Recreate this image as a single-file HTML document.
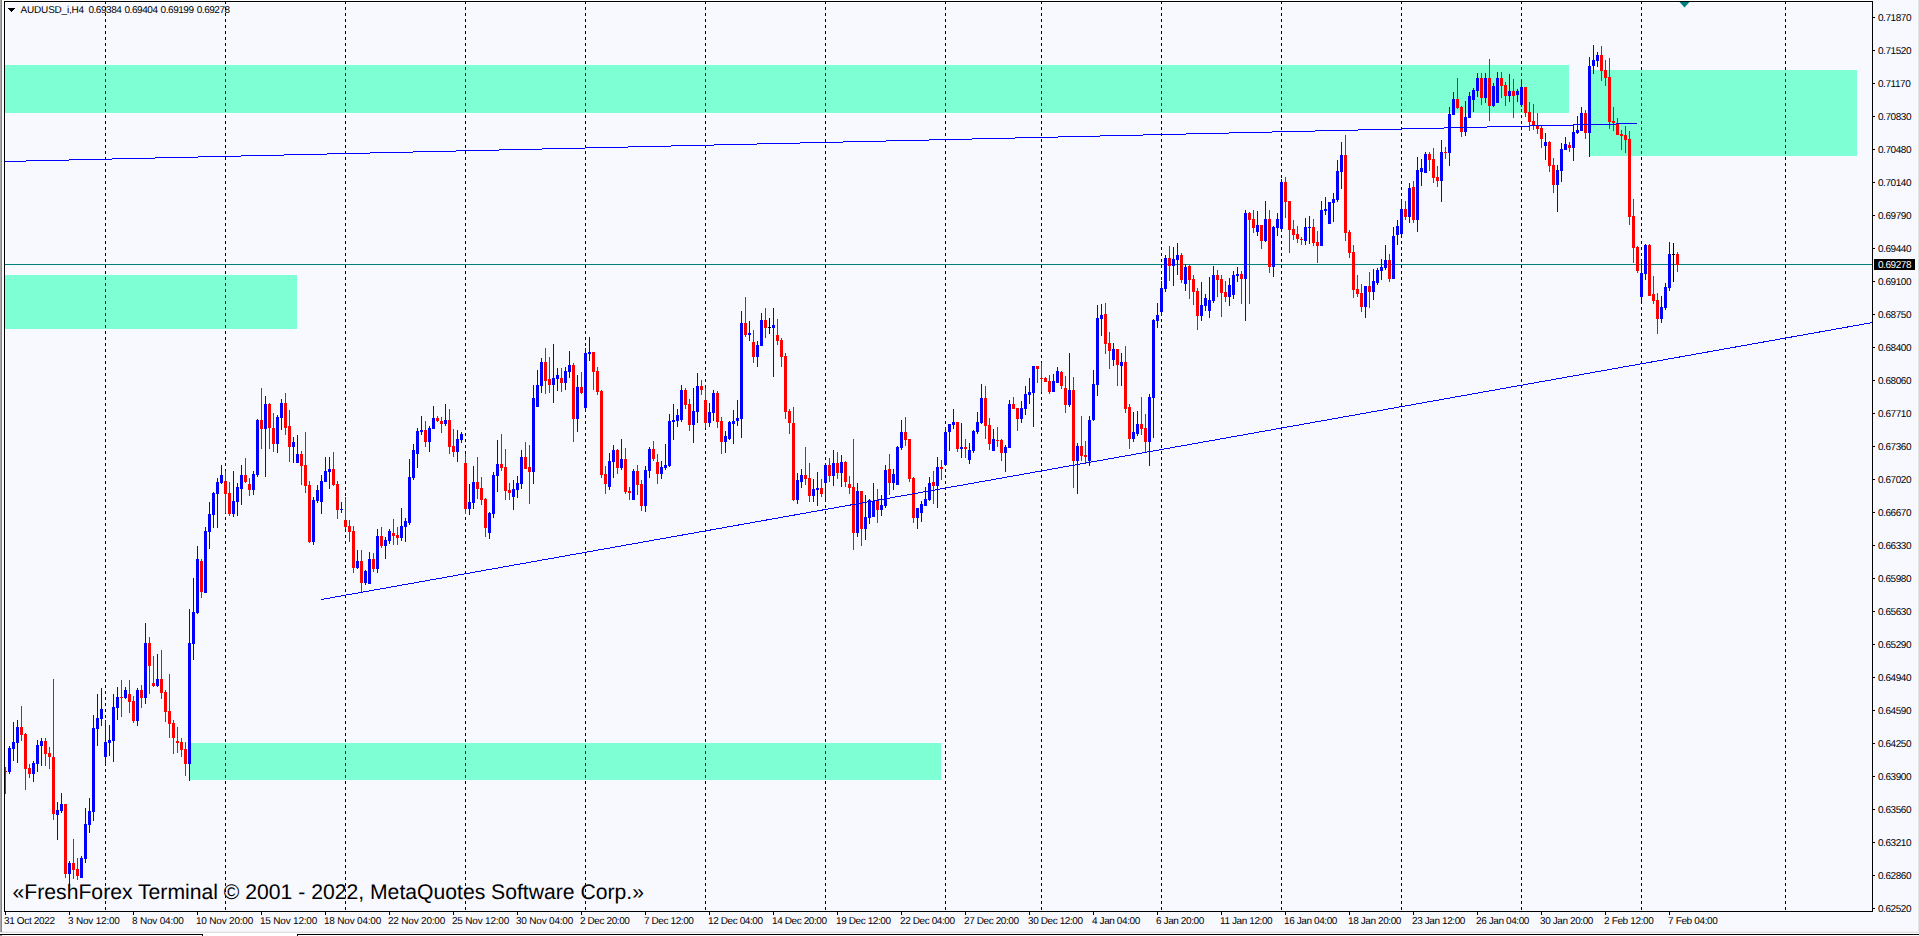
<!DOCTYPE html><html><head><meta charset="utf-8"><title>AUDUSD_i,H4</title><style>
html,body{margin:0;padding:0;background:#fff;}
body{width:1919px;height:936px;overflow:hidden;position:relative;font-family:"Liberation Sans",sans-serif;}
#c{position:absolute;left:0;top:0;}
.t{position:absolute;white-space:nowrap;color:#000;line-height:1;text-rendering:geometricPrecision;}
.p{font-size:10px;left:1878px;letter-spacing:-0.45px;}
.d{font-size:10px;top:917px;letter-spacing:-0.25px;}
</style></head><body>
<svg id="c" width="1919" height="936" viewBox="0 0 1919 936" shape-rendering="crispEdges">
<rect x="0" y="0" width="1919" height="936" fill="#fdfdff"/>
<rect x="5" y="2" width="1867" height="909" fill="#fff"/>
<rect x="6" y="3" width="1866" height="908" fill="#f8f8ff"/>
<rect x="1873" y="0" width="46" height="936" fill="#f8f8ff"/>
<rect x="2" y="912" width="1917" height="19" fill="#f8f8ff"/>
<rect x="0" y="0" width="1" height="932" fill="#a8a8a8"/><rect x="1" y="0" width="1" height="932" fill="#858585"/><rect x="2" y="0" width="2" height="934" fill="#fff"/>
<rect x="1917" y="0" width="1" height="932" fill="#fbfbfd"/><rect x="1918" y="0" width="1" height="932" fill="#e2e2e2"/>
<defs><clipPath id="g">
<rect x="5" y="65" width="1564" height="48"/>
<rect x="1590" y="70" width="267" height="86"/>
<rect x="5" y="275" width="292" height="54"/>
<rect x="190" y="743" width="751" height="37"/>
</clipPath></defs>
<rect x="5" y="65" width="1564" height="48" fill="#7fffd4"/>
<rect x="1590" y="70" width="267" height="86" fill="#7fffd4"/>
<rect x="5" y="275" width="292" height="54" fill="#7fffd4"/>
<rect x="190" y="743" width="751" height="37" fill="#7fffd4"/>
<path d="M105.5 1V911M225.5 1V911M345.5 1V911M465.5 1V911M585.5 1V911M705.5 1V911M825.5 1V911M945.5 1V911M1041.5 1V911M1161.5 1V911M1281.5 1V911M1401.5 1V911M1521.5 1V911M1641.5 1V911M1785.5 1V911" stroke="#000" stroke-width="1" stroke-dasharray="3 3" fill="none"/>
<path d="M105.5 1V911M225.5 1V911M345.5 1V911M465.5 1V911M585.5 1V911M705.5 1V911M825.5 1V911M945.5 1V911M1041.5 1V911M1161.5 1V911M1281.5 1V911M1401.5 1V911M1521.5 1V911M1641.5 1V911M1785.5 1V911" stroke="#80002b" stroke-width="1" stroke-dasharray="3 3" fill="none" clip-path="url(#g)"/>
<rect x="5" y="264" width="1867" height="1" fill="#008080"/>
<path d="M9 746h1v28h-1zM8 748h3v24h-3zM13 722h1v39h-1zM12 742h3v7h-3zM17 720h1v43h-1zM16 727h3v16h-3zM33 761h1v21h-1zM32 763h3v11h-3zM37 740h1v32h-1zM36 745h3v19h-3zM41 738h1v28h-1zM40 741h3v5h-3zM57 802h1v38h-1zM56 810h3v5h-3zM61 793h1v20h-1zM60 804h3v7h-3zM69 861h1v25h-1zM68 863h3v11h-3zM81 856h1v22h-1zM80 858h3v20h-3zM85 808h1v55h-1zM84 824h3v35h-3zM89 798h1v35h-1zM88 811h3v14h-3zM93 715h1v106h-1zM92 728h3v84h-3zM97 694h1v52h-1zM96 718h3v11h-3zM101 688h1v38h-1zM100 709h3v10h-3zM105 720h1v44h-1zM104 742h3v15h-3zM109 725h1v31h-1zM108 740h3v3h-3zM113 694h1v68h-1zM112 707h3v34h-3zM117 687h1v33h-1zM116 697h3v11h-3zM125 687h1v12h-1zM124 690h3v8h-3zM137 688h1v38h-1zM136 690h3v31h-3zM145 623h1v81h-1zM144 643h3v55h-3zM157 654h1v33h-1zM156 679h3v7h-3zM189 609h1v172h-1zM188 643h3v121h-3zM193 578h1v82h-1zM192 612h3v32h-3zM197 546h1v68h-1zM196 559h3v54h-3zM205 527h1v66h-1zM204 531h3v62h-3zM209 502h1v47h-1zM208 514h3v18h-3zM213 492h1v36h-1zM212 493h3v22h-3zM217 478h1v50h-1zM216 482h3v12h-3zM221 465h1v19h-1zM220 475h3v8h-3zM233 471h1v46h-1zM232 501h3v13h-3zM237 483h1v33h-1zM236 487h3v15h-3zM241 465h1v40h-1zM240 475h3v14h-3zM253 471h1v24h-1zM252 474h3v16h-3zM257 419h1v58h-1zM256 420h3v55h-3zM265 396h1v81h-1zM264 404h3v25h-3zM277 415h1v38h-1zM276 417h3v27h-3zM281 399h1v31h-1zM280 403h3v15h-3zM293 437h1v26h-1zM292 442h3v5h-3zM297 435h1v28h-1zM296 454h3v9h-3zM313 497h1v48h-1zM312 500h3v42h-3zM317 485h1v18h-1zM316 490h3v11h-3zM321 475h1v39h-1zM320 481h3v21h-3zM325 457h1v25h-1zM324 471h3v11h-3zM329 457h1v32h-1zM328 469h3v3h-3zM341 502h1v11h-1zM340 509h3v1h-3zM357 550h1v19h-1zM356 561h3v7h-3zM365 570h1v15h-1zM364 571h3v12h-3zM369 552h1v32h-1zM368 559h3v25h-3zM377 529h1v44h-1zM376 536h3v33h-3zM385 537h1v22h-1zM384 540h3v6h-3zM389 529h1v15h-1zM388 531h3v10h-3zM401 508h1v33h-1zM400 526h3v12h-3zM405 518h1v24h-1zM404 521h3v6h-3zM409 459h1v66h-1zM408 477h3v46h-3zM413 444h1v36h-1zM412 450h3v28h-3zM417 428h1v40h-1zM416 431h3v23h-3zM421 416h1v19h-1zM420 430h3v2h-3zM429 426h1v26h-1zM428 428h3v14h-3zM433 406h1v23h-1zM432 418h3v11h-3zM445 404h1v22h-1zM444 420h3v4h-3zM457 430h1v32h-1zM456 439h3v13h-3zM461 432h1v11h-1zM460 434h3v6h-3zM469 484h1v31h-1zM468 502h3v7h-3zM473 466h1v43h-1zM472 482h3v21h-3zM489 512h1v27h-1zM488 513h3v20h-3zM493 472h1v46h-1zM492 475h3v39h-3zM497 440h1v52h-1zM496 464h3v12h-3zM513 480h1v30h-1zM512 489h3v8h-3zM517 476h1v22h-1zM516 483h3v7h-3zM521 450h1v39h-1zM520 457h3v27h-3zM533 385h1v99h-1zM532 398h3v74h-3zM537 370h1v37h-1zM536 385h3v22h-3zM541 358h1v35h-1zM540 362h3v24h-3zM553 344h1v59h-1zM552 378h3v7h-3zM557 368h1v23h-1zM556 375h3v4h-3zM565 367h1v23h-1zM564 371h3v12h-3zM569 351h1v27h-1zM568 365h3v7h-3zM577 375h1v57h-1zM576 387h3v32h-3zM585 348h1v63h-1zM584 353h3v55h-3zM589 337h1v24h-1zM588 352h3v2h-3zM609 453h1v37h-1zM608 461h3v26h-3zM613 445h1v33h-1zM612 450h3v12h-3zM621 439h1v31h-1zM620 459h3v9h-3zM633 469h1v31h-1zM632 471h3v29h-3zM645 466h1v46h-1zM644 470h3v36h-3zM649 447h1v31h-1zM648 449h3v22h-3zM661 461h1v18h-1zM660 467h3v7h-3zM665 444h1v26h-1zM664 465h3v3h-3zM669 414h1v53h-1zM668 421h3v45h-3zM673 404h1v36h-1zM672 420h3v2h-3zM677 409h1v18h-1zM676 415h3v6h-3zM681 385h1v37h-1zM680 390h3v30h-3zM693 388h1v55h-1zM692 411h3v14h-3zM697 373h1v50h-1zM696 386h3v26h-3zM709 403h1v24h-1zM708 412h3v11h-3zM713 390h1v31h-1zM712 393h3v20h-3zM725 431h1v22h-1zM724 436h3v6h-3zM729 421h1v19h-1zM728 422h3v17h-3zM733 410h1v34h-1zM732 421h3v3h-3zM737 400h1v26h-1zM736 418h3v3h-3zM741 311h1v127h-1zM740 323h3v96h-3zM749 321h1v20h-1zM748 333h3v2h-3zM757 341h1v26h-1zM756 345h3v12h-3zM761 313h1v33h-1zM760 320h3v26h-3zM773 308h1v69h-1zM772 325h3v3h-3zM797 473h1v31h-1zM796 480h3v20h-3zM801 469h1v19h-1zM800 475h3v7h-3zM813 479h1v23h-1zM812 489h3v7h-3zM817 472h1v34h-1zM816 488h3v2h-3zM825 463h1v36h-1zM824 465h3v18h-3zM833 450h1v36h-1zM832 463h3v13h-3zM841 455h1v32h-1zM840 462h3v11h-3zM857 483h1v54h-1zM856 491h3v42h-3zM865 495h1v45h-1zM864 517h3v12h-3zM869 499h1v25h-1zM868 500h3v18h-3zM873 483h1v34h-1zM872 501h3v16h-3zM881 495h1v21h-1zM880 505h3v5h-3zM885 465h1v43h-1zM884 470h3v36h-3zM893 469h1v21h-1zM892 474h3v9h-3zM897 446h1v39h-1zM896 447h3v38h-3zM901 420h1v30h-1zM900 432h3v16h-3zM917 508h1v21h-1zM916 508h3v10h-3zM921 501h1v21h-1zM920 504h3v9h-3zM925 487h1v19h-1zM924 499h3v7h-3zM929 477h1v24h-1zM928 483h3v17h-3zM937 457h1v51h-1zM936 467h3v19h-3zM945 427h1v39h-1zM944 432h3v33h-3zM949 424h1v27h-1zM948 424h3v8h-3zM953 409h1v20h-1zM952 422h3v3h-3zM961 423h1v35h-1zM960 447h3v2h-3zM969 443h1v21h-1zM968 450h3v10h-3zM973 430h1v23h-1zM972 431h3v20h-3zM977 412h1v22h-1zM976 422h3v10h-3zM981 384h1v40h-1zM980 398h3v25h-3zM993 429h1v22h-1zM992 439h3v12h-3zM1005 445h1v27h-1zM1004 447h3v6h-3zM1009 400h1v48h-1zM1008 404h3v44h-3zM1021 401h1v22h-1zM1020 408h3v11h-3zM1025 386h1v29h-1zM1024 394h3v15h-3zM1029 378h1v26h-1zM1028 392h3v3h-3zM1033 366h1v61h-1zM1032 366h3v27h-3zM1053 374h1v18h-1zM1052 381h3v11h-3zM1057 367h1v16h-1zM1056 371h3v12h-3zM1069 353h1v54h-1zM1068 390h3v15h-3zM1077 443h1v51h-1zM1076 446h3v15h-3zM1089 416h1v50h-1zM1088 420h3v41h-3zM1093 370h1v51h-1zM1092 384h3v36h-3zM1097 305h1v91h-1zM1096 318h3v67h-3zM1101 304h1v32h-1zM1100 315h3v4h-3zM1113 343h1v23h-1zM1112 349h3v11h-3zM1121 353h1v33h-1zM1120 362h3v4h-3zM1133 412h1v30h-1zM1132 432h3v7h-3zM1137 411h1v25h-1zM1136 424h3v10h-3zM1149 394h1v72h-1zM1148 397h3v45h-3zM1153 319h1v119h-1zM1152 320h3v78h-3zM1157 303h1v25h-1zM1156 315h3v6h-3zM1161 281h1v35h-1zM1160 288h3v24h-3zM1165 255h1v37h-1zM1164 258h3v31h-3zM1173 247h1v39h-1zM1172 259h3v7h-3zM1177 243h1v32h-1zM1176 255h3v5h-3zM1185 264h1v27h-1zM1184 267h3v17h-3zM1201 282h1v39h-1zM1200 305h3v11h-3zM1205 294h1v17h-1zM1204 298h3v8h-3zM1209 277h1v41h-1zM1208 300h3v11h-3zM1213 266h1v37h-1zM1212 275h3v26h-3zM1229 278h1v28h-1zM1228 285h3v12h-3zM1233 271h1v28h-1zM1232 275h3v20h-3zM1237 267h1v15h-1zM1236 274h3v2h-3zM1245 210h1v111h-1zM1244 213h3v66h-3zM1257 211h1v25h-1zM1256 225h3v7h-3zM1265 201h1v41h-1zM1264 219h3v22h-3zM1273 226h1v51h-1zM1272 227h3v40h-3zM1277 213h1v23h-1zM1276 219h3v9h-3zM1281 179h1v53h-1zM1280 182h3v47h-3zM1305 218h1v27h-1zM1304 227h3v14h-3zM1309 216h1v28h-1zM1308 227h3v1h-3zM1321 201h1v45h-1zM1320 210h3v36h-3zM1325 197h1v18h-1zM1324 209h3v2h-3zM1329 202h1v22h-1zM1328 202h3v22h-3zM1333 193h1v29h-1zM1332 199h3v4h-3zM1337 160h1v42h-1zM1336 171h3v29h-3zM1341 142h1v47h-1zM1340 155h3v17h-3zM1365 286h1v32h-1zM1364 286h3v21h-3zM1373 269h1v31h-1zM1372 281h3v11h-3zM1377 268h1v17h-1zM1376 270h3v13h-3zM1381 259h1v21h-1zM1380 267h3v4h-3zM1385 245h1v25h-1zM1384 260h3v8h-3zM1393 227h1v52h-1zM1392 236h3v43h-3zM1397 220h1v25h-1zM1396 226h3v9h-3zM1401 200h1v35h-1zM1400 209h3v25h-3zM1409 183h1v40h-1zM1408 188h3v29h-3zM1417 157h1v75h-1zM1416 170h3v50h-3zM1421 159h1v27h-1zM1420 168h3v4h-3zM1425 152h1v21h-1zM1424 154h3v19h-3zM1441 140h1v62h-1zM1440 152h3v29h-3zM1449 107h1v59h-1zM1448 114h3v39h-3zM1453 92h1v23h-1zM1452 99h3v16h-3zM1465 101h1v35h-1zM1464 117h3v15h-3zM1469 92h1v26h-1zM1468 96h3v22h-3zM1473 88h1v24h-1zM1472 90h3v10h-3zM1477 73h1v24h-1zM1476 78h3v13h-3zM1485 73h1v30h-1zM1484 78h3v20h-3zM1493 83h1v24h-1zM1492 86h3v20h-3zM1497 72h1v31h-1zM1496 78h3v25h-3zM1509 74h1v28h-1zM1508 91h3v5h-3zM1517 89h1v13h-1zM1516 91h3v4h-3zM1521 80h1v27h-1zM1520 87h3v18h-3zM1545 133h1v27h-1zM1544 142h3v4h-3zM1557 165h1v47h-1zM1556 170h3v15h-3zM1561 143h1v39h-1zM1560 149h3v22h-3zM1565 137h1v13h-1zM1564 144h3v6h-3zM1573 124h1v37h-1zM1572 132h3v16h-3zM1577 116h1v18h-1zM1576 130h3v3h-3zM1581 107h1v24h-1zM1580 113h3v18h-3zM1589 57h1v100h-1zM1588 66h3v67h-3zM1593 45h1v29h-1zM1592 60h3v6h-3zM1597 52h1v15h-1zM1596 55h3v6h-3zM1641 260h1v41h-1zM1640 273h3v24h-3zM1645 244h1v36h-1zM1644 245h3v29h-3zM1661 296h1v27h-1zM1660 307h3v12h-3zM1665 283h1v27h-1zM1664 287h3v21h-3zM1669 242h1v49h-1zM1668 254h3v34h-3z" fill="#0000ff"/>
<path d="M5 767h1v27h-1zM5 771h2v1h-2zM21 706h1v35h-1zM20 727h3v8h-3zM25 733h1v57h-1zM24 734h3v35h-3zM29 764h1v14h-1zM28 768h3v6h-3zM45 738h1v28h-1zM44 741h3v13h-3zM49 747h1v22h-1zM48 753h3v4h-3zM53 679h1v141h-1zM52 757h3v57h-3zM65 804h1v74h-1zM64 804h3v70h-3zM73 839h1v40h-1zM72 863h3v7h-3zM77 858h1v22h-1zM76 869h3v7h-3zM121 680h1v37h-1zM120 697h3v1h-3zM129 680h1v33h-1zM128 694h3v8h-3zM133 696h1v27h-1zM132 701h3v20h-3zM141 685h1v23h-1zM140 690h3v8h-3zM149 637h1v57h-1zM148 643h3v23h-3zM153 656h1v31h-1zM152 683h3v3h-3zM161 650h1v49h-1zM160 679h3v14h-3zM165 690h1v32h-1zM164 692h3v20h-3zM169 674h1v64h-1zM168 711h3v13h-3zM173 720h1v34h-1zM172 723h3v15h-3zM177 727h1v26h-1zM176 741h3v2h-3zM181 738h1v19h-1zM180 742h3v8h-3zM185 742h1v34h-1zM184 749h3v15h-3zM201 559h1v39h-1zM200 561h3v31h-3zM225 471h1v42h-1zM224 481h3v13h-3zM229 482h1v34h-1zM228 493h3v21h-3zM245 458h1v25h-1zM244 475h3v7h-3zM249 478h1v18h-1zM248 484h3v6h-3zM261 388h1v61h-1zM260 420h3v9h-3zM269 403h1v46h-1zM268 404h3v24h-3zM273 413h1v39h-1zM272 428h3v16h-3zM285 393h1v42h-1zM284 403h3v25h-3zM289 410h1v52h-1zM288 426h3v21h-3zM301 451h1v34h-1zM300 454h3v12h-3zM305 432h1v61h-1zM304 465h3v21h-3zM309 481h1v62h-1zM308 485h3v57h-3zM333 452h1v34h-1zM332 469h3v16h-3zM337 481h1v38h-1zM336 484h3v26h-3zM345 497h1v32h-1zM344 520h3v7h-3zM349 520h1v22h-1zM348 526h3v6h-3zM353 526h1v47h-1zM352 531h3v37h-3zM361 550h1v42h-1zM360 561h3v22h-3zM373 553h1v19h-1zM372 559h3v10h-3zM381 527h1v21h-1zM380 536h3v10h-3zM393 519h1v26h-1zM392 533h3v3h-3zM397 527h1v18h-1zM396 535h3v3h-3zM425 421h1v26h-1zM424 430h3v12h-3zM437 416h1v6h-1zM436 418h3v3h-3zM441 417h1v16h-1zM440 421h3v3h-3zM449 409h1v45h-1zM448 420h3v27h-3zM453 429h1v28h-1zM452 446h3v6h-3zM465 454h1v60h-1zM464 463h3v46h-3zM477 457h1v42h-1zM476 482h3v7h-3zM481 477h1v28h-1zM480 488h3v12h-3zM485 498h1v39h-1zM484 499h3v29h-3zM501 434h1v37h-1zM500 464h3v4h-3zM505 449h1v51h-1zM504 467h3v24h-3zM509 483h1v17h-1zM508 490h3v3h-3zM525 442h1v27h-1zM524 457h3v12h-3zM529 445h1v59h-1zM528 467h3v5h-3zM545 348h1v46h-1zM544 362h3v19h-3zM549 357h1v36h-1zM548 379h3v6h-3zM561 368h1v24h-1zM560 378h3v5h-3zM573 363h1v79h-1zM572 365h3v54h-3zM581 372h1v22h-1zM580 387h3v6h-3zM593 352h1v38h-1zM592 352h3v20h-3zM597 367h1v28h-1zM596 371h3v21h-3zM601 390h1v88h-1zM600 391h3v84h-3zM605 466h1v28h-1zM604 474h3v10h-3zM617 449h1v25h-1zM616 450h3v18h-3zM625 448h1v46h-1zM624 459h3v33h-3zM629 487h1v13h-1zM628 491h3v2h-3zM637 465h1v30h-1zM636 471h3v14h-3zM641 480h1v31h-1zM640 484h3v22h-3zM653 441h1v20h-1zM652 449h3v10h-3zM657 454h1v30h-1zM656 462h3v12h-3zM685 388h1v21h-1zM684 390h3v15h-3zM689 399h1v32h-1zM688 404h3v21h-3zM701 380h1v15h-1zM700 386h3v4h-3zM705 388h1v40h-1zM704 400h3v23h-3zM717 391h1v37h-1zM716 393h3v29h-3zM721 417h1v37h-1zM720 421h3v21h-3zM745 297h1v40h-1zM744 323h3v12h-3zM753 330h1v33h-1zM752 342h3v15h-3zM765 308h1v30h-1zM764 320h3v8h-3zM777 319h1v26h-1zM776 335h3v6h-3zM781 338h1v29h-1zM780 340h3v17h-3zM785 353h1v66h-1zM784 356h3v56h-3zM789 409h1v25h-1zM788 411h3v12h-3zM793 407h1v94h-1zM792 423h3v77h-3zM805 447h1v38h-1zM804 475h3v4h-3zM809 463h1v39h-1zM808 478h3v18h-3zM821 479h1v18h-1zM820 488h3v6h-3zM829 458h1v24h-1zM828 465h3v11h-3zM837 452h1v27h-1zM836 463h3v10h-3zM845 461h1v26h-1zM844 462h3v20h-3zM849 476h1v18h-1zM848 484h3v4h-3zM853 439h1v111h-1zM852 487h3v46h-3zM861 491h1v55h-1zM860 491h3v38h-3zM877 489h1v34h-1zM876 501h3v9h-3zM889 454h1v41h-1zM888 469h3v14h-3zM905 417h1v29h-1zM904 432h3v8h-3zM909 439h1v43h-1zM908 439h3v40h-3zM913 477h1v46h-1zM912 478h3v40h-3zM933 471h1v33h-1zM932 482h3v4h-3zM941 460h1v20h-1zM940 467h3v2h-3zM957 422h1v30h-1zM956 422h3v27h-3zM965 439h1v19h-1zM964 447h3v2h-3zM985 386h1v53h-1zM984 398h3v28h-3zM989 418h1v32h-1zM988 425h3v19h-3zM997 427h1v20h-1zM996 440h3v1h-3zM1001 439h1v22h-1zM1000 440h3v13h-3zM1013 397h1v12h-1zM1012 404h3v5h-3zM1017 408h1v23h-1zM1016 408h3v11h-3zM1037 366h1v17h-1zM1036 366h3v3h-3zM1041 363h1v29h-1zM1040 378h3v1h-3zM1045 377h1v5h-1zM1044 378h3v4h-3zM1049 375h1v19h-1zM1048 381h3v11h-3zM1061 371h1v18h-1zM1060 372h3v14h-3zM1065 376h1v37h-1zM1064 388h3v17h-3zM1073 377h1v111h-1zM1072 390h3v71h-3zM1081 416h1v45h-1zM1080 446h3v10h-3zM1085 441h1v22h-1zM1084 455h3v2h-3zM1105 303h1v51h-1zM1104 314h3v30h-3zM1109 332h1v37h-1zM1108 343h3v8h-3zM1117 349h1v37h-1zM1116 349h3v16h-3zM1125 346h1v67h-1zM1124 362h3v47h-3zM1129 404h1v45h-1zM1128 407h3v32h-3zM1141 397h1v38h-1zM1140 424h3v5h-3zM1145 414h1v38h-1zM1144 428h3v14h-3zM1169 246h1v35h-1zM1168 258h3v8h-3zM1181 253h1v30h-1zM1180 255h3v25h-3zM1189 265h1v34h-1zM1188 266h3v14h-3zM1193 275h1v30h-1zM1192 279h3v13h-3zM1197 288h1v42h-1zM1196 291h3v25h-3zM1217 270h1v27h-1zM1216 275h3v5h-3zM1221 275h1v42h-1zM1220 279h3v14h-3zM1225 281h1v21h-1zM1224 292h3v5h-3zM1241 271h1v33h-1zM1240 274h3v5h-3zM1249 212h1v92h-1zM1248 213h3v7h-3zM1253 210h1v23h-1zM1252 219h3v9h-3zM1261 225h1v24h-1zM1260 225h3v16h-3zM1269 210h1v63h-1zM1268 219h3v48h-3zM1285 177h1v41h-1zM1284 182h3v20h-3zM1289 201h1v52h-1zM1288 201h3v29h-3zM1293 220h1v20h-1zM1292 229h3v6h-3zM1297 226h1v17h-1zM1296 234h3v5h-3zM1301 237h1v8h-1zM1300 239h3v1h-3zM1313 219h1v27h-1zM1312 227h3v16h-3zM1317 231h1v32h-1zM1316 242h3v4h-3zM1345 135h1v106h-1zM1344 155h3v78h-3zM1349 230h1v28h-1zM1348 232h3v21h-3zM1353 245h1v53h-1zM1352 252h3v38h-3zM1357 275h1v22h-1zM1356 289h3v5h-3zM1361 284h1v28h-1zM1360 293h3v14h-3zM1369 272h1v36h-1zM1368 286h3v6h-3zM1389 254h1v28h-1zM1388 260h3v19h-3zM1405 201h1v19h-1zM1404 209h3v8h-3zM1413 181h1v42h-1zM1412 187h3v33h-3zM1429 152h1v19h-1zM1428 154h3v6h-3zM1433 148h1v35h-1zM1432 159h3v19h-3zM1437 166h1v21h-1zM1436 177h3v4h-3zM1445 147h1v12h-1zM1444 152h3v1h-3zM1457 78h1v31h-1zM1456 99h3v9h-3zM1461 106h1v31h-1zM1460 107h3v25h-3zM1481 73h1v32h-1zM1480 78h3v20h-3zM1489 59h1v62h-1zM1488 78h3v28h-3zM1501 72h1v26h-1zM1500 78h3v8h-3zM1505 82h1v24h-1zM1504 85h3v11h-3zM1513 79h1v39h-1zM1512 91h3v5h-3zM1525 87h1v30h-1zM1524 87h3v26h-3zM1529 102h1v29h-1zM1528 112h3v10h-3zM1533 104h1v26h-1zM1532 121h3v4h-3zM1537 113h1v21h-1zM1536 125h3v4h-3zM1541 126h1v22h-1zM1540 128h3v11h-3zM1549 141h1v31h-1zM1548 142h3v24h-3zM1553 158h1v35h-1zM1552 165h3v20h-3zM1569 142h1v10h-1zM1568 145h3v3h-3zM1585 110h1v29h-1zM1584 113h3v20h-3zM1601 46h1v35h-1zM1600 55h3v16h-3zM1605 60h1v26h-1zM1604 70h3v8h-3zM1609 58h1v71h-1zM1608 77h3v45h-3zM1613 107h1v24h-1zM1612 121h3v2h-3zM1617 118h1v17h-1zM1616 123h3v12h-3zM1621 130h1v20h-1zM1620 134h3v2h-3zM1625 126h1v27h-1zM1624 135h3v5h-3zM1629 131h1v94h-1zM1628 139h3v78h-3zM1633 199h1v64h-1zM1632 216h3v32h-3zM1637 246h1v27h-1zM1636 247h3v24h-3zM1649 244h1v52h-1zM1648 245h3v51h-3zM1653 276h1v28h-1zM1652 294h3v7h-3zM1657 293h1v41h-1zM1656 300h3v19h-3zM1677 252h1v20h-1zM1676 254h3v11h-3z" fill="#ff0000"/>
<path d="M769 318h1v16h-1zM768 327h3v1h-3zM1673 243h1v39h-1zM1672 254h3v1h-3z" fill="#000000"/>
<line x1="321" y1="599.54" x2="1872" y2="322.64" stroke="#0000ff" stroke-width="1"/>
<line x1="5" y1="161.512" x2="1637" y2="123.51" stroke="#0000ff" stroke-width="1"/>
<rect x="4" y="1" width="1869" height="1" fill="#000"/>
<rect x="4" y="1" width="1" height="911" fill="#000"/>
<rect x="4" y="911" width="1869" height="1" fill="#000"/>
<rect x="1872" y="1" width="1" height="911" fill="#000"/>
<rect x="1873" y="17" width="2" height="1" fill="#000"/>
<rect x="1873" y="50" width="2" height="1" fill="#000"/>
<rect x="1873" y="83" width="2" height="1" fill="#000"/>
<rect x="1873" y="116" width="2" height="1" fill="#000"/>
<rect x="1873" y="149" width="2" height="1" fill="#000"/>
<rect x="1873" y="182" width="2" height="1" fill="#000"/>
<rect x="1873" y="215" width="2" height="1" fill="#000"/>
<rect x="1873" y="248" width="2" height="1" fill="#000"/>
<rect x="1873" y="281" width="2" height="1" fill="#000"/>
<rect x="1873" y="314" width="2" height="1" fill="#000"/>
<rect x="1873" y="347" width="2" height="1" fill="#000"/>
<rect x="1873" y="380" width="2" height="1" fill="#000"/>
<rect x="1873" y="413" width="2" height="1" fill="#000"/>
<rect x="1873" y="446" width="2" height="1" fill="#000"/>
<rect x="1873" y="479" width="2" height="1" fill="#000"/>
<rect x="1873" y="512" width="2" height="1" fill="#000"/>
<rect x="1873" y="545" width="2" height="1" fill="#000"/>
<rect x="1873" y="578" width="2" height="1" fill="#000"/>
<rect x="1873" y="611" width="2" height="1" fill="#000"/>
<rect x="1873" y="644" width="2" height="1" fill="#000"/>
<rect x="1873" y="677" width="2" height="1" fill="#000"/>
<rect x="1873" y="710" width="2" height="1" fill="#000"/>
<rect x="1873" y="743" width="2" height="1" fill="#000"/>
<rect x="1873" y="776" width="2" height="1" fill="#000"/>
<rect x="1873" y="809" width="2" height="1" fill="#000"/>
<rect x="1873" y="842" width="2" height="1" fill="#000"/>
<rect x="1873" y="875" width="2" height="1" fill="#000"/>
<rect x="1873" y="908" width="2" height="1" fill="#000"/>
<rect x="5" y="912" width="1" height="3" fill="#000"/>
<rect x="69" y="912" width="1" height="3" fill="#000"/>
<rect x="133" y="912" width="1" height="3" fill="#000"/>
<rect x="197" y="912" width="1" height="3" fill="#000"/>
<rect x="261" y="912" width="1" height="3" fill="#000"/>
<rect x="325" y="912" width="1" height="3" fill="#000"/>
<rect x="389" y="912" width="1" height="3" fill="#000"/>
<rect x="453" y="912" width="1" height="3" fill="#000"/>
<rect x="517" y="912" width="1" height="3" fill="#000"/>
<rect x="581" y="912" width="1" height="3" fill="#000"/>
<rect x="645" y="912" width="1" height="3" fill="#000"/>
<rect x="709" y="912" width="1" height="3" fill="#000"/>
<rect x="773" y="912" width="1" height="3" fill="#000"/>
<rect x="837" y="912" width="1" height="3" fill="#000"/>
<rect x="901" y="912" width="1" height="3" fill="#000"/>
<rect x="965" y="912" width="1" height="3" fill="#000"/>
<rect x="1029" y="912" width="1" height="3" fill="#000"/>
<rect x="1093" y="912" width="1" height="3" fill="#000"/>
<rect x="1157" y="912" width="1" height="3" fill="#000"/>
<rect x="1221" y="912" width="1" height="3" fill="#000"/>
<rect x="1285" y="912" width="1" height="3" fill="#000"/>
<rect x="1349" y="912" width="1" height="3" fill="#000"/>
<rect x="1413" y="912" width="1" height="3" fill="#000"/>
<rect x="1477" y="912" width="1" height="3" fill="#000"/>
<rect x="1541" y="912" width="1" height="3" fill="#000"/>
<rect x="1605" y="912" width="1" height="3" fill="#000"/>
<rect x="1669" y="912" width="1" height="3" fill="#000"/>
<rect x="1874" y="259" width="41" height="11" fill="#000"/>
<path d="M1679.5 2h10l-5 5.5z" fill="#008080" shape-rendering="auto"/>
<path d="M8 8h7v1h-1v1h-1v1h-1v1h-1v-1h-1v-1h-1v-1h-1z" fill="#000"/>
<rect x="2" y="931" width="1917" height="1" fill="#f0f0f3"/><rect x="0" y="932" width="1919" height="1" fill="#dedede"/><rect x="0" y="933" width="1919" height="3" fill="#fff"/>
<rect x="0" y="934" width="203" height="1" fill="#000"/><rect x="202" y="934" width="1" height="2" fill="#000"/>
<rect x="297" y="934" width="1622" height="1" fill="#000"/><rect x="297" y="934" width="1" height="2" fill="#000"/>
<rect x="0" y="935" width="2" height="1" fill="#909090"/>
</svg>
<div class="t" id="hdr" style="left:20.6px;top:6px;font-size:10px;letter-spacing:-0.2px">AUDUSD_i,H4</div>
<div class="t hn" style="left:88.40px;top:6px;font-size:10px;letter-spacing:-0.45px">0.69384</div>
<div class="t hn" style="left:124.50px;top:6px;font-size:10px;letter-spacing:-0.45px">0.69404</div>
<div class="t hn" style="left:160.60px;top:6px;font-size:10px;letter-spacing:-0.45px">0.69199</div>
<div class="t hn" style="left:196.70px;top:6px;font-size:10px;letter-spacing:-0.45px">0.69278</div>
<div class="t p" style="top:14.0px">0.71870</div>
<div class="t p" style="top:47.0px">0.71520</div>
<div class="t p" style="top:80.0px">0.71170</div>
<div class="t p" style="top:113.0px">0.70830</div>
<div class="t p" style="top:146.0px">0.70480</div>
<div class="t p" style="top:179.0px">0.70140</div>
<div class="t p" style="top:212.0px">0.69790</div>
<div class="t p" style="top:245.0px">0.69440</div>
<div class="t p" style="top:278.0px">0.69100</div>
<div class="t p" style="top:311.0px">0.68750</div>
<div class="t p" style="top:344.0px">0.68400</div>
<div class="t p" style="top:377.0px">0.68060</div>
<div class="t p" style="top:410.0px">0.67710</div>
<div class="t p" style="top:443.0px">0.67360</div>
<div class="t p" style="top:476.0px">0.67020</div>
<div class="t p" style="top:509.0px">0.66670</div>
<div class="t p" style="top:542.0px">0.66330</div>
<div class="t p" style="top:575.0px">0.65980</div>
<div class="t p" style="top:608.0px">0.65630</div>
<div class="t p" style="top:641.0px">0.65290</div>
<div class="t p" style="top:674.0px">0.64940</div>
<div class="t p" style="top:707.0px">0.64590</div>
<div class="t p" style="top:740.0px">0.64250</div>
<div class="t p" style="top:773.0px">0.63900</div>
<div class="t p" style="top:806.0px">0.63560</div>
<div class="t p" style="top:839.0px">0.63210</div>
<div class="t p" style="top:872.0px">0.62860</div>
<div class="t p" style="top:905.0px">0.62520</div>
<div class="t p" id="bid" style="top:261.0px;color:#fff">0.69278</div>
<div class="t d" style="left:4px;letter-spacing:-0.35px">31 Oct 2022</div>
<div class="t d" style="left:68px;letter-spacing:-0.20px">3 Nov 12:00</div>
<div class="t d" style="left:132px;letter-spacing:-0.20px">8 Nov 04:00</div>
<div class="t d" style="left:196px;letter-spacing:-0.20px">10 Nov 20:00</div>
<div class="t d" style="left:260px;letter-spacing:-0.20px">15 Nov 12:00</div>
<div class="t d" style="left:324px;letter-spacing:-0.20px">18 Nov 04:00</div>
<div class="t d" style="left:388px;letter-spacing:-0.20px">22 Nov 20:00</div>
<div class="t d" style="left:452px;letter-spacing:-0.20px">25 Nov 12:00</div>
<div class="t d" style="left:516px;letter-spacing:-0.20px">30 Nov 04:00</div>
<div class="t d" style="left:580px;letter-spacing:-0.40px">2 Dec 20:00</div>
<div class="t d" style="left:644px;letter-spacing:-0.40px">7 Dec 12:00</div>
<div class="t d" style="left:708px;letter-spacing:-0.40px">12 Dec 04:00</div>
<div class="t d" style="left:772px;letter-spacing:-0.40px">14 Dec 20:00</div>
<div class="t d" style="left:836px;letter-spacing:-0.40px">19 Dec 12:00</div>
<div class="t d" style="left:900px;letter-spacing:-0.40px">22 Dec 04:00</div>
<div class="t d" style="left:964px;letter-spacing:-0.40px">27 Dec 20:00</div>
<div class="t d" style="left:1028px;letter-spacing:-0.40px">30 Dec 12:00</div>
<div class="t d" style="left:1092px;letter-spacing:-0.40px">4 Jan 04:00</div>
<div class="t d" style="left:1156px;letter-spacing:-0.40px">6 Jan 20:00</div>
<div class="t d" style="left:1220px;letter-spacing:-0.40px">11 Jan 12:00</div>
<div class="t d" style="left:1284px;letter-spacing:-0.40px">16 Jan 04:00</div>
<div class="t d" style="left:1348px;letter-spacing:-0.40px">18 Jan 20:00</div>
<div class="t d" style="left:1412px;letter-spacing:-0.40px">23 Jan 12:00</div>
<div class="t d" style="left:1476px;letter-spacing:-0.40px">26 Jan 04:00</div>
<div class="t d" style="left:1540px;letter-spacing:-0.40px">30 Jan 20:00</div>
<div class="t d" style="left:1604px;letter-spacing:-0.35px">2 Feb 12:00</div>
<div class="t d" style="left:1668px;letter-spacing:-0.35px">7 Feb 04:00</div>
<div class="t" id="big" style="left:12.6px;top:882px;font-size:21.17px;">«FreshForex Terminal © 2001 - 2022, MetaQuotes Software Corp.»</div>
</body></html>
